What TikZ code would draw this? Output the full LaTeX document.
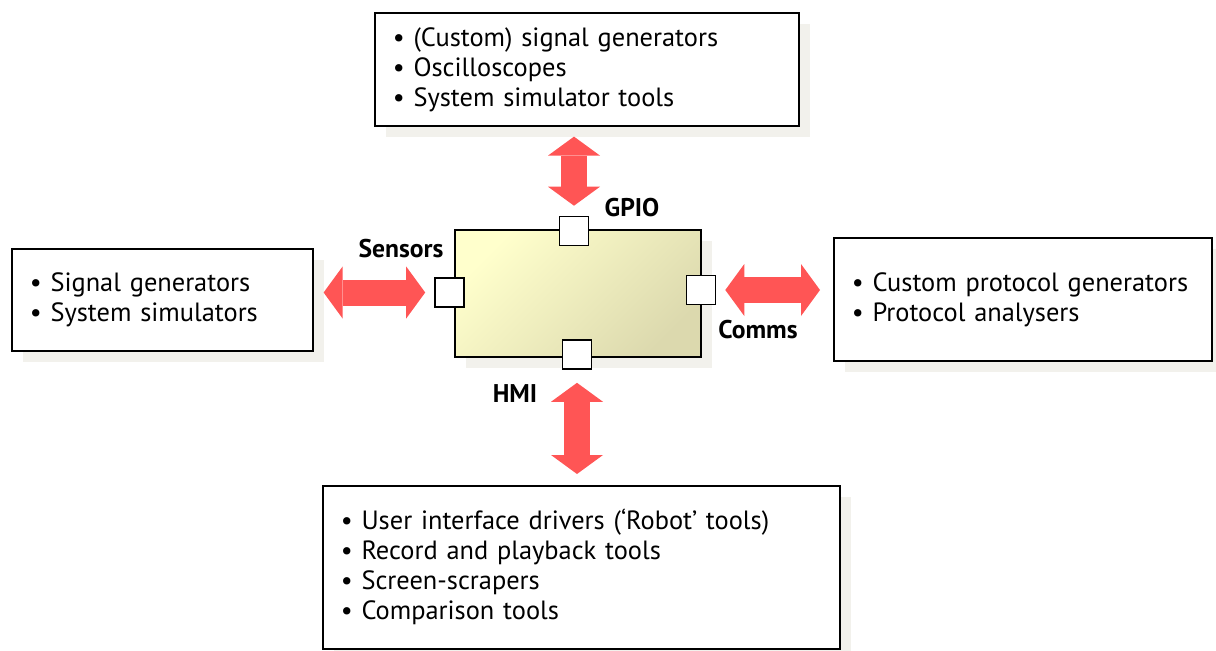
\documentclass[tikz,border=0pt]{standalone}
\usepackage{fontspec}
\setmainfont{PT Sans}
\usetikzlibrary{arrows.meta,shadows}
\definecolor{arrowred}{HTML}{FF5555}
\definecolor{shadowgrey}{HTML}{F2F1EC}
\definecolor{mculight}{HTML}{FFFFCC}
\definecolor{mcudark}{HTML}{DCD9AE}

\begin{document}
\begin{tikzpicture}[x=0.5pt, y=-0.5pt,
    every node/.style={font=\fontsize{13.2}{15}\selectfont},
    toolbox/.style={draw, line width=0.8pt, fill=white, align=left, anchor=north west,
      inner xsep=9pt, inner ysep=0pt,
      drop shadow={shadow xshift=5.5pt, shadow yshift=-5.5pt, fill=shadowgrey, opacity=1}},
    port/.style={draw, line width=0.8pt, fill=white, minimum size=14.5pt, inner sep=0pt},
    lbl/.style={font=\fontsize{12.8}{15}\selectfont\bfseries},
    bigarrow/.style={arrowred, line width=13pt,
      {Triangle[width=26pt, length=9.5pt, line width=0pt]}-{Triangle[width=26pt, length=9.5pt, line width=0pt]}}]
    \useasboundingbox (0,0) rectangle (1216,650);

    % tool boxes round the target
    \node[toolbox, text width=194pt, minimum height=56.5pt] (sigbox) at (374,12)
      {\textbullet\ (Custom) signal generators\\ \textbullet\ Oscilloscopes\\ \textbullet\ System simulator tools};
    \node[toolbox, text width=132.5pt, minimum height=51pt] (simbox) at (11,248)
      {\textbullet\ Signal generators\\ \textbullet\ System simulators};
    \node[toolbox, text width=171pt, minimum height=61.5pt] (protbox) at (833,237)
      {\textbullet\ Custom protocol generators\\ \textbullet\ Protocol analysers};
    \node[toolbox, text width=240.5pt, minimum height=81.5pt] (uibox) at (322,485)
      {\textbullet\ User interface drivers (‘Robot’ tools)\\ \textbullet\ Record and playback tools\\
       \textbullet\ Screen-scrapers\\ \textbullet\ Comparison tools};

    % target with its four ports
    \node[draw, line width=0.8pt, minimum width=123pt, minimum height=63.5pt,
      top color=mculight, bottom color=mcudark, shading angle=45,
      drop shadow={shadow xshift=5.5pt, shadow yshift=-5.5pt, fill=shadowgrey, opacity=1}]
      (target) at (578,293.5) {};
    \node[port] (gpio) at (574,231) {};
    \node[port] (sensors) at (449.5,292.5) {};
    \node[port] (comms) at (701,290) {};
    \node[port] (hmi) at (577,354.5) {};

    % port names
    \node[lbl] at (632,208) {GPIO};
    \node[lbl] at (401,249) {Sensors};
    \node[lbl] at (758,330) {Comms};
    \node[lbl] at (515,394) {HMI};

    % double arrows
    \draw[bigarrow, shorten <=5pt, shorten >=5pt] (gpio.north) -- (gpio.north |- sigbox.south);
    \draw[bigarrow, shorten <=4.5pt, shorten >=5pt] (sensors.west) -- (sensors.west -| simbox.east);
    \draw[bigarrow, shorten <=4.5pt, shorten >=6.5pt] (comms.east) -- (comms.east -| protbox.west);
    \draw[bigarrow, shorten <=6.5pt, shorten >=5.5pt] (hmi.south) -- (hmi.south |- uibox.north);
  \end{tikzpicture}
\end{document}
